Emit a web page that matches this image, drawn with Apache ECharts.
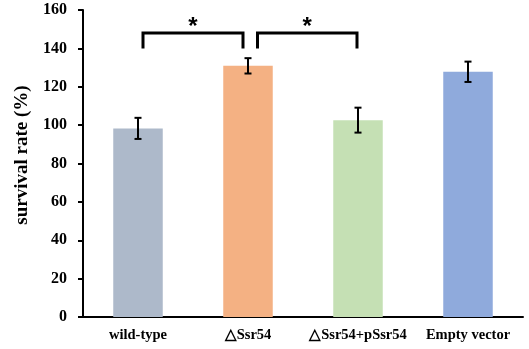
<!DOCTYPE html>
<html>
<head>
<meta charset="utf-8">
<script src="https://cdn.jsdelivr.net/npm/echarts@6/dist/echarts.min.js"></script>
<style>
  html, body { margin: 0; padding: 0; background: #fff; }
  #chart { width: 529px; height: 349px; }
</style>
</head>
<body>
<div id="chart"></div>
<script>
const categories = ["wild-type", "\u25B3Ssr54", "\u25B3Ssr54+pSsr54", "Empty vector"];
const survival = [98.3, 130.9, 102.6, 127.8];
const errors = [5.5, 4.0, 6.5, 5.3];
const barColors = ["#ADB9CA", "#F4B183", "#C5E0B4", "#8FAADC"];
const yTicks = [0, 20, 40, 60, 80, 100, 120, 140, 160];
// significance brackets: [from, to, top, leg end]
const brackets = [[0, 1, 148, 140], [1, 2, 148, 140]];

const serif = "'Liberation Serif', 'Times New Roman', serif";
const chart = echarts.init(document.getElementById("chart"));

const errData = survival.map((v, i) => [i, v - errors[i], v + errors[i]]);

chart.setOption({
  animation: false,
  grid: { left: 83, right: 6, top: 10, bottom: 32 },
  xAxis: {
    type: "category",
    data: categories,
    axisLine: { lineStyle: { color: "#000", width: 2 } },
    axisTick: { show: false },
    axisLabel: { interval: 0, color: "#000", fontFamily: serif, fontWeight: "bold", fontSize: 14.5, margin: 11 }
  },
  yAxis: {
    type: "value",
    min: 0, max: 160, interval: 20,
    name: "survival rate (%)",
    nameLocation: "middle",
    nameGap: 51,
    nameTextStyle: { color: "#000", fontFamily: serif, fontWeight: "bold", fontSize: 19, padding: [0, 0, 0, 17] },
    axisLine: { show: true, lineStyle: { color: "#000", width: 2 } },
    axisTick: { show: true, length: 5, lineStyle: { color: "#000", width: 2 } },
    splitLine: { show: false },
    axisLabel: {
      color: "#000", fontFamily: serif, fontWeight: "bold", fontSize: 16, margin: 16,
      formatter: v => yTicks.includes(v) ? String(v) : ""
    }
  },
  series: [
    {
      type: "bar",
      barWidth: "45%",
      data: survival.map((v, i) => ({ value: v, itemStyle: { color: barColors[i] } })),
      z: 2
    },
    {
      type: "custom",
      z: 3,
      data: errData,
      renderItem: (params, api) => {
        const lo = api.coord([api.value(0), api.value(1)]);
        const hi = api.coord([api.value(0), api.value(2)]);
        const w = 3.5;
        const style = { stroke: "#000", lineWidth: 2 };
        return {
          type: "group",
          children: [
            { type: "line", shape: { x1: hi[0], y1: hi[1], x2: lo[0], y2: lo[1] }, style },
            { type: "line", shape: { x1: hi[0] - w, y1: hi[1], x2: hi[0] + w, y2: hi[1] }, style },
            { type: "line", shape: { x1: lo[0] - w, y1: lo[1], x2: lo[0] + w, y2: lo[1] }, style }
          ]
        };
      }
    },
    {
      type: "custom",
      z: 4,
      data: brackets,
      renderItem: (params, api) => {
        const idx = params.dataIndex;
        const a = api.coord([api.value(0), api.value(2)]);
        const b = api.coord([api.value(1), api.value(2)]);
        const e = api.coord([api.value(0), api.value(3)]);
        const padL = idx === 0 ? 5 : 9.5;
        const padR = idx === 0 ? 5 : 1;
        const x1 = a[0] + padL, x2 = b[0] - padR, yTop = a[1], yEnd = e[1];
        return {
          type: "group",
          children: [
            {
              type: "polyline",
              shape: { points: [[x1, yEnd], [x1, yTop], [x2, yTop], [x2, yEnd]] },
              style: { stroke: "#000", lineWidth: 3, fill: null }
            },
            {
              type: "text",
              style: {
                text: "*", x: (x1 + x2) / 2, y: yTop + 6,
                align: "center", verticalAlign: "bottom",
                font: "bold 24px 'Liberation Sans', Arial, sans-serif", fill: "#000"
              }
            }
          ]
        };
      }
    }
  ]
});
</script>
</body>
</html>
